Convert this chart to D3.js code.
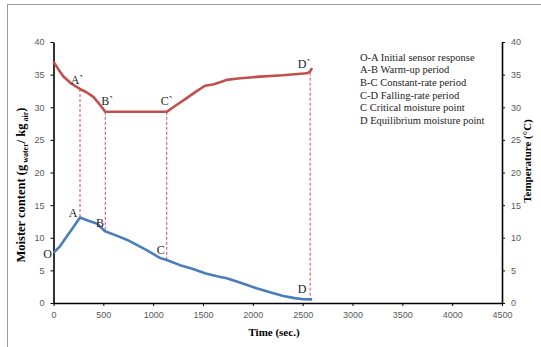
<!DOCTYPE html>
<html><head><meta charset="utf-8">
<script src="https://cdn.jsdelivr.net/npm/d3@7"></script>
<style>body{margin:0;background:#fff}svg{display:block}</style>
</head><body>
<script>
// ---- data ----
const tempTime  = [0, 50, 100, 180, 266, 330, 400, 460, 520, 1136, 1230, 1336, 1430, 1520, 1600, 1686, 1738, 1850, 2072, 2300, 2540, 2570, 2595];
const tempValue = [37.0, 35.8, 34.7, 33.6, 32.8, 32.3, 31.6, 30.5, 29.3, 29.3, 30.3, 31.4, 32.4, 33.3, 33.5, 33.9, 34.2, 34.4, 34.7, 34.9, 35.2, 35.4, 36.0];
const moistTime  = [0, 60, 133, 216, 266, 350, 433, 517, 620, 735, 835, 935, 1068, 1136, 1270, 1400, 1520, 1640, 1738, 1900, 2038, 2180, 2306, 2420, 2507, 2595];
const moistValue = [7.7, 8.6, 10.2, 12.0, 13.1, 12.6, 12.2, 11.0, 10.4, 9.7, 8.9, 8.1, 6.9, 6.6, 5.8, 5.2, 4.55, 4.1, 3.8, 3.0, 2.25, 1.6, 1.07, 0.75, 0.57, 0.55];
const markTime   = [266, 520, 1136, 2575];
const markTop    = [32.8, 29.3, 29.3, 35.3];
const markBottom = [13.1, 11.0, 6.6, 0.55];
const topLabels  = ["A`", "B`", "C`", "D`"];
const bottomLabels = ["O", "A", "B", "C", "D"];
const bottomLabelTime = [0, 266, 517, 1136, 2575];
const bottomLabelVal  = [7.7, 13.1, 11.0, 6.6, 0.55];
const xTicks = [0, 500, 1000, 1500, 2000, 2500, 3000, 3500, 4000, 4500];
const yTicks = [0, 5, 10, 15, 20, 25, 30, 35, 40];
const legendLines = ["O-A Initial sensor response", "A-B Warm-up period", "B-C Constant-rate period", "C-D Falling-rate period", "C Critical moisture point", "D Equilibrium moisture point"];

const W = 541, H = 347;
const svg = d3.select("body").append("svg").attr("width", W).attr("height", H);
const L = 53.5, R = 502, T = 42, B = 303;
const x = d3.scaleLinear().domain([0, 4500]).range([L, R]);
const yL = d3.scaleLinear().domain([0, 40]).range([B, T]);
const yR = d3.scaleLinear().domain([0, 40]).range([B, T]);

// frame
svg.append("line").attr("x1", 7).attr("x2", W).attr("y1", 4.5).attr("y2", 4.5).attr("stroke", "#9a9a9a").attr("stroke-width", 1);
svg.append("line").attr("x1", 7.5).attr("x2", 7.5).attr("y1", 4).attr("y2", H).attr("stroke", "#9a9a9a").attr("stroke-width", 1);

const tickFont = "'Liberation Sans', Arial, sans-serif";
const serif = "'Liberation Serif', 'Times New Roman', serif";

function styleAxis(g) {
  g.select(".domain").attr("stroke", "#000").attr("stroke-width", 1.6);
  g.selectAll(".tick line").attr("stroke", "#000").attr("stroke-width", 1);
  g.selectAll(".tick text").attr("fill", "#595959").attr("font-family", tickFont).attr("font-size", 9);
}
svg.append("g").attr("transform", `translate(0,${B})`)
  .call(d3.axisBottom(x).tickValues(xTicks).tickSize(3).tickSizeOuter(0).tickPadding(6).tickFormat(d3.format("d")))
  .call(styleAxis);
svg.append("g").attr("transform", `translate(${L},0)`)
  .call(d3.axisLeft(yL).tickValues(yTicks).tickSize(3).tickSizeOuter(0).tickPadding(6).tickFormat(d3.format("d")))
  .call(styleAxis);
svg.append("g").attr("transform", `translate(${R},0)`)
  .call(d3.axisRight(yR).tickValues(yTicks).tickSize(3).tickSizeOuter(0).tickPadding(6).tickFormat(d3.format("d")))
  .call(styleAxis);

// dashed markers
svg.append("g").selectAll("line").data(markTime).join("line")
  .attr("x1", d => x(d)).attr("x2", d => x(d))
  .attr("y1", (d, i) => yR(markTop[i])).attr("y2", (d, i) => yL(markBottom[i]))
  .attr("stroke", "#e2434f").attr("stroke-width", 1).attr("stroke-dasharray", "3,2");

// lines
const tempData = tempTime.map((t, i) => [t, tempValue[i]]);
const moistData = moistTime.map((t, i) => [t, moistValue[i]]);
svg.append("path").datum(tempData)
  .attr("d", d3.line().x(d => x(d[0])).y(d => yR(d[1])))
  .attr("fill", "none").attr("stroke", "#C0504D").attr("stroke-width", 2.6).attr("stroke-linejoin", "round");
svg.append("path").datum(moistData)
  .attr("d", d3.line().x(d => x(d[0])).y(d => yL(d[1])))
  .attr("fill", "none").attr("stroke", "#4A7EBB").attr("stroke-width", 2.6).attr("stroke-linejoin", "round");

// point labels
const topDx = [-3, 2, 0, -6], topDy = [-5, -7, -7, -5];
svg.append("g").selectAll("text").data(topLabels).join("text")
  .attr("x", (d, i) => x(markTime[i]) + topDx[i])
  .attr("y", (d, i) => yR(markTop[i]) + topDy[i])
  .attr("text-anchor", "middle").attr("font-family", serif).attr("font-size", 12).attr("fill", "#222")
  .text(d => d);
const botDx = [-6, -7, -5, -6, -8], botDy = [5, -1, -4, -6, -6];
svg.append("g").selectAll("text").data(bottomLabels).join("text")
  .attr("x", (d, i) => x(bottomLabelTime[i]) + botDx[i])
  .attr("y", (d, i) => yL(bottomLabelVal[i]) + botDy[i])
  .attr("text-anchor", "middle").attr("font-family", serif).attr("font-size", 12).attr("fill", "#222")
  .text(d => d);

// legend text
svg.append("g").selectAll("text").data(legendLines).join("text")
  .attr("x", 360).attr("y", (d, i) => 60.5 + i * 12.7)
  .attr("font-family", serif).attr("font-size", 10.5).attr("fill", "#222")
  .text(d => d);

// axis titles
svg.append("text").attr("x", 274).attr("y", 336).attr("text-anchor", "middle")
  .attr("font-family", serif).attr("font-size", 11).attr("font-weight", "bold").text("Time (sec.)");

const lt = svg.append("text").attr("transform", `translate(25,185) rotate(-90)`)
  .attr("text-anchor", "middle").attr("font-family", serif).attr("font-size", 12.5).attr("font-weight", "bold");
lt.append("tspan").text("Moister content (g");
lt.append("tspan").attr("font-size", 8).attr("dy", 2.5).text(" water");
lt.append("tspan").attr("dy", -2.5).text("/ kg");
lt.append("tspan").attr("font-size", 8).attr("dy", 2.5).text(" air");
lt.append("tspan").attr("dy", -2.5).text(")");

svg.append("text").attr("transform", `translate(531,161) rotate(-90)`)
  .attr("text-anchor", "middle").attr("font-family", serif).attr("font-size", 11).attr("font-weight", "bold")
  .text("Temperature (°C)");
</script>
</body></html>
